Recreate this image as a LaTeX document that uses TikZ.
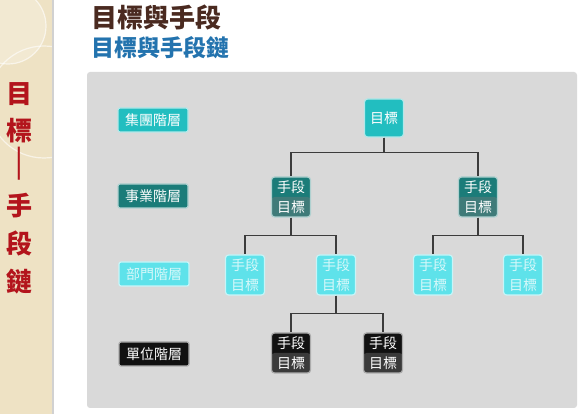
\documentclass[tikz,border=0pt]{standalone}
\usepackage{fontspec}
\newfontfamily\cjk{Noto Sans CJK TC}
\usepackage{xcolor}
\usepackage{graphicx}
\definecolor{sidebeige}{HTML}{EEE2C4}
\definecolor{sidered}{HTML}{B3141C}
\definecolor{titlebrown}{HTML}{4A2A20}
\definecolor{titleblue}{HTML}{2373AE}
\definecolor{panelgray}{HTML}{D9D9D9}
\definecolor{groupteal}{HTML}{22BEC0}
\definecolor{bizteal}{HTML}{1B7C79}
\definecolor{bizlow}{HTML}{3F7B79}
\definecolor{deptcyan}{HTML}{5EE2EA}
\definecolor{unitblack}{HTML}{111111}
\definecolor{unitlow}{HTML}{3A3A3A}
\definecolor{linkgray}{HTML}{3C3C3C}

\tikzset{
  lvlbox/.style={rounded corners=2pt, draw=white!65!#1, line width=1.2pt, fill=#1,
    text=white, minimum width=70pt, minimum height=24pt, inner sep=0pt,
    font=\cjk\fontsize{14}{14}\selectfont},
  pairbox/.style 2 args={rounded corners=3pt, draw=white!65!#1, line width=1.2pt, fill=#1,
    text=white, minimum width=39pt, minimum height=40pt, inner sep=0pt, align=center,
    font=\cjk\fontsize{14}{20}\selectfont,
    path picture={\fill[#2] (path picture bounding box.west) rectangle (path picture bounding box.south east);}},
  link/.style={draw=linkgray, line width=1.1pt},
}

\begin{document}
\begin{tikzpicture}[x=1pt, y=-1pt]
  \useasboundingbox (0,0) rectangle (582,414);
  % side strip
  \fill[sidebeige] (0,0) rectangle (52,414);
  \begin{scope}
    \clip (0,0) rectangle (52,414);
    \fill[white, opacity=0.25] (8,26) circle (38);
    \draw[white, opacity=0.6, line width=1.2pt] (8,26) circle (38);
    \draw[white, opacity=0.6, line width=1.2pt] (44,102) circle (56);
  \end{scope}
  \draw[black!18, line width=2pt] (53,0) -- (53,414);
  \node[text=sidered, font=\cjk\bfseries\fontsize{26}{37.6}\selectfont, align=center]
    (sidetitle) at (19,188) {目\\標\\\scalebox{1.6}[1.5]{︱}\\手\\段\\鏈};

  % titles
  \node[anchor=west, text=titlebrown, font=\cjk\bfseries\fontsize{26}{26}\selectfont, inner sep=0pt]
    (title) at (91,17) {目標與手段};
  \node[anchor=west, text=titleblue, font=\cjk\bfseries\fontsize{23}{23}\selectfont, inner sep=0pt]
    (subtitle) at (91,48) {目標與手段鏈};

  % panel
  \fill[panelgray, rounded corners=3pt] (87,72) rectangle (577,408);

  % levels
  \node[lvlbox=groupteal] (group) at (153,120) {集團階層};
  \node[lvlbox=bizteal] (business) at (153,196) {事業階層};
  \node[lvlbox=deptcyan, text=white!75!deptcyan] (dept) at (154,274) {部門階層};
  \node[lvlbox=unitblack] (unit) at (154,354) {單位階層};

  % tree
  \node[pairbox={groupteal}{groupteal}, minimum height=38pt] (goal) at (384,118) {目標};
  \node[pairbox={bizteal}{bizlow}] (bizl) at (291,197) {手段\\目標};
  \node[pairbox={bizteal}{bizlow}] (bizr) at (478,197) {手段\\目標};
  \node[pairbox={deptcyan}{deptcyan}, text=white!75!deptcyan] (dept1) at (245,275) {手段\\目標};
  \node[pairbox={deptcyan}{deptcyan}, text=white!75!deptcyan] (dept2) at (336,275) {手段\\目標};
  \node[pairbox={deptcyan}{deptcyan}, text=white!75!deptcyan] (dept3) at (433,275) {手段\\目標};
  \node[pairbox={deptcyan}{deptcyan}, text=white!75!deptcyan] (dept4) at (523,275) {手段\\目標};
  \node[pairbox={unitblack}{unitlow}] (unit1) at (291,353) {手段\\目標};
  \node[pairbox={unitblack}{unitlow}] (unit2) at (383,353) {手段\\目標};

  % connectors
  \draw[link] (goal.south) -- ++(0,15) -| (bizl.north);
  \draw[link] (goal.south) -- ++(0,15) -| (bizr.north);
  \draw[link] (bizl.south) -- ++(0,18) -| (dept1.north);
  \draw[link] (bizl.south) -- ++(0,18) -| (dept2.north);
  \draw[link] (bizr.south) -- ++(0,18) -| (dept3.north);
  \draw[link] (bizr.south) -- ++(0,18) -| (dept4.north);
  \draw[link] (dept2.south) -- ++(0,18) -| (unit1.north);
  \draw[link] (dept2.south) -- ++(0,18) -| (unit2.north);
\end{tikzpicture}
\end{document}
